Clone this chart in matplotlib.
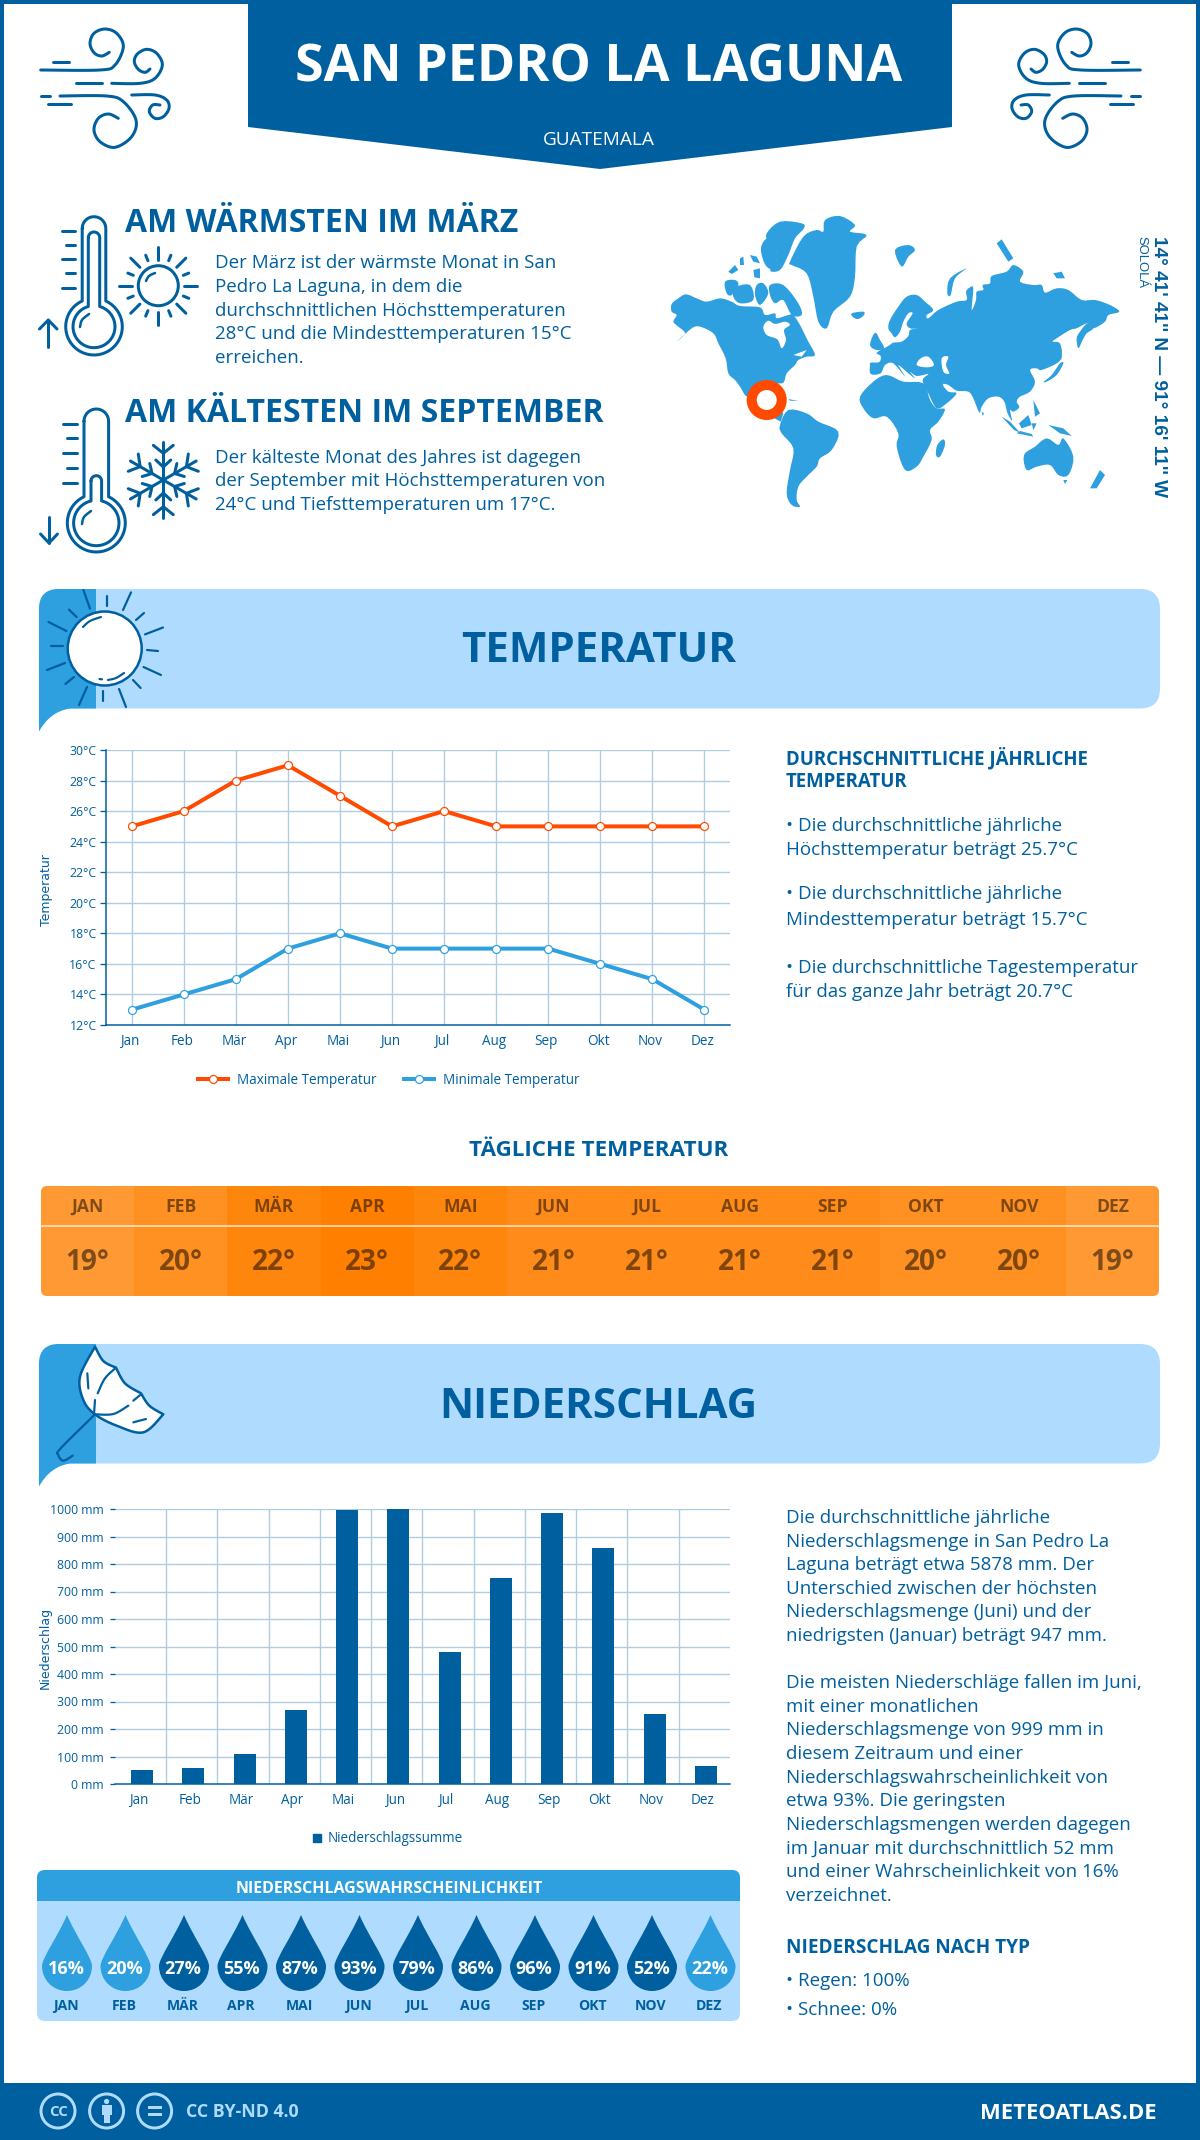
import numpy as np
import matplotlib
matplotlib.use('Agg')
import matplotlib.pyplot as plt
from matplotlib.lines import Line2D
from matplotlib.patches import Circle, FancyBboxPatch, PathPatch, Polygon, Rectangle
from matplotlib.path import Path
from matplotlib.transforms import ScaledTranslation

plt.rcParams['font.family'] = ['Open Sans', 'DejaVu Sans']

# Data

months = ['Jan', 'Feb', 'Mär', 'Apr', 'Mai', 'Jun', 'Jul', 'Aug', 'Sep', 'Okt', 'Nov', 'Dez']
months_upper = ['JAN', 'FEB', 'MÄR', 'APR', 'MAI', 'JUN', 'JUL', 'AUG', 'SEP', 'OKT', 'NOV', 'DEZ']
temp_max = [25, 26, 28, 29, 27, 25, 26, 25, 25, 25, 25, 25]
temp_min = [13, 14, 15, 17, 18, 17, 17, 17, 17, 16, 15, 13]
temp_ticks = [12, 14, 16, 18, 20, 22, 24, 26, 28, 30]
daily_temp = [19, 20, 22, 23, 22, 21, 21, 21, 21, 20, 20, 19]
precip = [52, 60, 110, 270, 997, 999, 480, 750, 985, 858, 255, 66]
precip_ticks = [0, 100, 200, 300, 400, 500, 600, 700, 800, 900, 1000]
rain_prob = [16, 20, 27, 55, 87, 93, 79, 86, 96, 91, 52, 22]

warm_lines = ['Der März ist der wärmste Monat in San', 'Pedro La Laguna, in dem die',
              'durchschnittlichen Höchsttemperaturen', '28°C und die Mindesttemperaturen 15°C', 'erreichen.']
cold_lines = ['Der kälteste Monat des Jahres ist dagegen', 'der September mit Höchsttemperaturen von',
              '24°C und Tiefsttemperaturen um 17°C.']
temp_notes = [('• Die durchschnittliche jährliche', 831), ('Höchsttemperatur beträgt 25.7°C', 855),
              ('• Die durchschnittliche jährliche', 899), ('Mindesttemperatur beträgt 15.7°C', 925),
              ('• Die durchschnittliche Tagestemperatur', 973), ('für das ganze Jahr beträgt 20.7°C', 997)]
precip_lines = ['Die durchschnittliche jährliche', 'Niederschlagsmenge in San Pedro La',
                'Laguna beträgt etwa 5878 mm. Der', 'Unterschied zwischen der höchsten',
                'Niederschlagsmenge (Juni) und der', 'niedrigsten (Januar) beträgt 947 mm.']
precip_lines2 = ['Die meisten Niederschläge fallen im Juni,', 'mit einer monatlichen',
                 'Niederschlagsmenge von 999 mm in', 'diesem Zeitraum und einer',
                 'Niederschlagswahrscheinlichkeit von', 'etwa 93%. Die geringsten',
                 'Niederschlagsmengen werden dagegen', 'im Januar mit durchschnittlich 52 mm',
                 'und einer Wahrscheinlichkeit von 16%', 'verzeichnet.']

DARK = '#005f9e'
MID = '#2e9fdf'
LIGHT = '#afdbff'
ORANGE = '#ff4a00'
GRID = '#b0cce0'
DAILY_COLORS = {19: '#ff9933', 20: '#ff9022', 21: '#ff8c1a', 22: '#ff860d', 23: '#ff8000'}
BODY = 18.75

W, H = 1200, 2140
fig = plt.figure(figsize=(W / 100, H / 100), dpi=100, facecolor='white')

# Page layer in pixels, y going down
bg = fig.add_axes([0, 0, 1, 1])
bg.set_xlim(0, W)
bg.set_ylim(H, 0)
bg.axis('off')


def pt(px):
    return px * 0.72


def txt(x, y, s, size, color=DARK, weight='normal', ha='left', **kw):
    return bg.text(x, y, s, fontsize=pt(size), color=color, fontweight=weight, ha=ha, va='baseline', **kw)


def spline(p, n):
    # Catmull-Rom; p carries one guard point at each end
    out = []
    for i in range(1, len(p) - 2):
        t = np.linspace(0, 1, n, endpoint=False)[:, None]
        a, b, c, d = p[i - 1], p[i], p[i + 1], p[i + 2]
        out.append(0.5 * (2 * b + (c - a) * t + (2 * a - 5 * b + 4 * c - d) * t ** 2 + (3 * b - a - 3 * c + d) * t ** 3))
    out.append(p[-2][None, :])
    return np.vstack(out)


def smooth(pts, n=12):
    p = np.array(pts, dtype=float)
    return spline(np.vstack([p[0], p, p[-1]]), n)


def smooth_closed(pts, n=4):
    p = np.array(pts, dtype=float)
    if len(p) < 5:
        return p
    return spline(np.vstack([p[-1], p, p[0], p[1]]), n)


def stroke(pts, lw=3, color=DARK, z=3):
    p = np.array(pts, dtype=float)
    bg.plot(p[:, 0], p[:, 1], color=color, lw=pt(lw), solid_capstyle='round', solid_joinstyle='round', zorder=z)


def thermo_outline(cx, top, cy, hw, R):
    # tube with a round top that opens into the bulb
    a = np.arcsin(hw / R)
    cap = np.linspace(np.pi, 0, 20)
    bulb = np.linspace(-np.pi / 2 + a, 1.5 * np.pi - a, 50)
    xs = np.r_[cx + hw * np.cos(cap), cx + R * np.cos(bulb)]
    ys = np.r_[top + hw - hw * np.sin(cap), cy + R * np.sin(bulb)]
    xs = np.r_[xs, xs[0]]
    ys = np.r_[ys, ys[0]]
    return np.c_[xs, ys]


# Page frame
bg.add_patch(Rectangle((0, 0), 4, H, color=DARK, lw=0))
bg.add_patch(Rectangle((1196, 0), 4, H, color=DARK, lw=0))
bg.add_patch(Rectangle((0, 0), W, 3.5, color=DARK, lw=0))
bg.add_patch(Rectangle((0, 2083), W, 57, color=DARK, lw=0))

# Title banner
bg.add_patch(Polygon([(248, 0), (952, 0), (952, 127), (600, 169), (248, 127)], color=DARK, lw=0))
txt(599, 81, 'SAN PEDRO LA LAGUNA', 52, 'white', 'bold', 'center')
txt(599, 145, 'GUATEMALA', 19, 'white', ha='center')


# Wind icons
def wind(mirror=False):
    def tr(p):
        q = np.array(p, dtype=float)
        x = 20 + q[:, 0] / 3
        y = 10 + q[:, 1] / 3
        return np.c_[1181 - x if mirror else x, y]
    swirls = [
        [(62, 180), (240, 180), (285, 165), (310, 110), (290, 70), (255, 57), (222, 70), (210, 100), (222, 128), (245, 138), (268, 127)],
        [(275, 220), (360, 220), (405, 205), (427, 165), (410, 130), (380, 118), (352, 132), (343, 155), (355, 178), (375, 187), (390, 177)],
        [(120, 258), (260, 258), (310, 275), (348, 330), (335, 380), (285, 412), (240, 395), (222, 360), (235, 325), (265, 312), (295, 325)],
        [(335, 255), (405, 255), (440, 270), (447, 295), (430, 320), (405, 325), (388, 305), (398, 285), (420, 285)],
    ]
    for s in swirls:
        stroke(tr(smooth(s)), 3)
    for d in [[(168, 220), (245, 220)], [(98, 155), (148, 155)], [(62, 258), (90, 258)], [(85, 283), (153, 283)]]:
        stroke(tr(d), 3)


wind()
wind(True)

# Thermometer, warm
stroke(thermo_outline(94, 216.7, 326.7, 11.8, 28.3))
stroke(thermo_outline(94, 232, 326.7, 5.7, 21))
stroke(smooth([(80, 327), (82, 320), (89, 314)]), 2.5)
for y, x0 in zip([231, 245, 259.3, 273.3, 287.7], [62.3, 65.7, 62.3, 65.7, 62.3]):
    stroke([(x0, y), (75, y)])
stroke([(48.3, 320), (48.3, 346.7)])
stroke([(39.5, 329), (48.3, 320), (57, 329)])

# Sun
bg.add_patch(Circle((158.3, 285.7), 20, fc='none', ec=DARK, lw=pt(3)))
stroke(smooth([(146, 281), (149, 276), (155, 273)]), 2.5)
for ang in np.arange(0, 360, 45):
    c, s = np.cos(np.radians(ang)), np.sin(np.radians(ang))
    stroke([(158.3 + 26 * c, 285.7 + 26 * s), (158.3 + 39 * c, 285.7 + 39 * s)])
    c, s = np.cos(np.radians(ang + 22.5)), np.sin(np.radians(ang + 22.5))
    stroke([(158.3 + 27 * c, 285.7 + 27 * s), (158.3 + 33 * c, 285.7 + 33 * s)])

# Thermometer, cold
stroke(thermo_outline(96.3, 409, 523, 12.3, 29))
stroke(thermo_outline(96.3, 475.7, 523, 5.3, 22.7))
stroke(smooth([(82, 524), (84, 517), (91, 511)]), 2.5)
for y, x0 in zip([424, 438, 453, 467.7, 482.7], [63, 66.5, 63, 66.5, 63]):
    stroke([(x0, y), (76.7, y)])
stroke([(49, 517), (49, 543)])
stroke([(40.5, 534), (49, 543), (57.5, 534)])

# Snowflake
for ang in np.arange(30, 360, 60):
    u = np.array([np.cos(np.radians(ang)), np.sin(np.radians(ang))])
    v = np.array([-u[1], u[0]])
    o = np.array([163.3, 480])
    stroke([o, o + 38 * u])
    stroke([o + 26.7 * u + 10 * v + 8 * u, o + 26.7 * u, o + 26.7 * u - 10 * v + 8 * u])
    stroke([o + 13 * u + 7.5 * v + 7 * u, o + 13 * u, o + 13 * u - 7.5 * v + 7 * u])

# Warm / cold text
txt(125, 232, 'AM WÄRMSTEN IM MÄRZ', 32, weight='bold')
for i, line in enumerate(warm_lines):
    txt(215, 268 + i * 23.8, line, BODY)
txt(125, 422, 'AM KÄLTESTEN IM SEPTEMBER', 32, weight='bold')
for i, line in enumerate(cold_lines):
    txt(215, 463 + i * 23.5, line, BODY)

# World map, traced in crop units (3 per pixel, origin 660,200)
land = [
    [(35, 312), (55, 295), (78, 283), (110, 295), (140, 305), (180, 295), (215, 305), (240, 318), (300, 322), (315, 345), (345, 340), (350, 355), (385, 345), (400, 345), (420, 375), (430, 395), (445, 425), (465, 465), (440, 470), (415, 480), (405, 495), (380, 520), (370, 548), (340, 550), (315, 555), (290, 560), (262, 590), (240, 560), (225, 540), (205, 520), (197, 475), (175, 430), (160, 400), (120, 380), (95, 385), (50, 425), (75, 400), (55, 380), (40, 365), (50, 345), (35, 335)],
    [(300, 560), (370, 640), (362, 665), (280, 620)],
    [(195, 245), (225, 240), (235, 255), (215, 285), (200, 280)],
    [(205, 215), (225, 195), (235, 210), (215, 222)],
    [(225, 262), (270, 255), (280, 300), (240, 310), (220, 290)],
    [(280, 210), (300, 205), (300, 235), (283, 232)],
    [(290, 255), (310, 250), (325, 280), (300, 315), (285, 285)],
    [(330, 255), (370, 255), (415, 310), (425, 345), (395, 345), (370, 300), (345, 310), (330, 285)],
    [(305, 135), (325, 115), (350, 150), (345, 205), (320, 200), (305, 165)],
    [(320, 100), (360, 65), (425, 70), (432, 85), (405, 115), (385, 165), (360, 210), (330, 212), (350, 180), (345, 140), (325, 125)],
    [(240, 175), (250, 170), (252, 195), (240, 195)],
    [(270, 165), (290, 170), (300, 190), (280, 185)],
    [(390, 185), (430, 110), (470, 90), (490, 95), (495, 60), (540, 48), (585, 75), (570, 95), (620, 105), (590, 140), (585, 230), (570, 290), (520, 335), (500, 385), (475, 365), (460, 290), (440, 220), (395, 195)],
    [(575, 340), (610, 335), (612, 345), (595, 357), (580, 352)],
    [(385, 630), (440, 640), (475, 665), (535, 695), (515, 750), (480, 775), (470, 800), (440, 830), (415, 860), (410, 900), (420, 920), (395, 915), (380, 880), (390, 810), (400, 745), (365, 700), (360, 675)],
    [(600, 590), (640, 545), (680, 525), (730, 545), (790, 550), (810, 600), (830, 625), (855, 628), (835, 665), (810, 690), (815, 720), (790, 770), (770, 800), (735, 810), (710, 740), (715, 700), (680, 650), (640, 655), (610, 625)],
    [(850, 718), (855, 735), (840, 770), (828, 765), (832, 735)],
    [(1092, 765), (1125, 740), (1160, 715), (1195, 735), (1210, 715), (1240, 770), (1225, 825), (1195, 825), (1170, 795), (1130, 800), (1100, 810)],
    [(1320, 810), (1335, 825), (1310, 865), (1290, 865)],
    [(1210, 840), (1222, 840), (1215, 852)],
    [(705, 150), (745, 135), (765, 150), (745, 170), (725, 200)],
    [(1010, 130), (1025, 118), (1060, 175), (1045, 185)],
    [(385, 597), (415, 603), (390, 602)],
]
# Eurasia from a closer crop (3 per pixel, origin 860,250)
land_asia = [
    [(30, 345), (32, 338), (58, 336), (62, 318), (50, 308), (85, 288), (100, 278), (125, 275), (145, 258), (150, 240), (172, 236), (150, 235), (140, 220), (158, 190), (145, 190), (130, 215), (120, 245), (105, 262), (95, 250), (85, 235), (90, 210), (115, 170), (140, 140), (170, 135), (195, 155), (220, 180), (200, 195), (205, 205), (235, 180), (290, 155), (320, 150), (318, 125), (330, 112), (340, 115), (335, 180), (348, 150), (350, 125), (370, 120), (368, 105), (390, 100), (395, 78), (440, 65), (460, 45), (490, 65), (480, 95), (520, 105), (545, 105), (555, 128), (590, 115), (625, 120), (665, 150), (705, 150), (750, 165), (778, 185), (745, 195), (735, 215), (700, 235), (682, 220), (650, 235), (630, 240), (590, 265), (578, 275), (600, 280), (605, 320), (590, 340), (545, 360), (530, 355), (510, 360), (525, 395), (510, 425), (480, 440), (470, 455), (478, 472), (460, 485), (450, 480), (456, 512), (442, 488), (433, 455), (415, 440), (385, 445), (365, 470), (358, 488), (340, 445), (325, 425), (290, 422), (265, 405), (248, 403), (265, 425), (290, 430), (260, 460), (230, 475), (205, 430), (190, 400), (190, 385), (205, 372), (170, 378), (150, 365), (165, 385), (145, 370), (115, 345), (135, 380), (100, 340), (75, 345), (62, 370), (32, 372)],
    [(682, 220), (700, 235), (680, 250), (668, 270), (655, 295), (650, 265), (660, 245)],
    [(30, 285), (45, 248), (60, 270), (72, 295), (50, 300)],
    [(262, 130), (270, 85), (320, 55), (285, 85), (272, 135)],
    [(552, 395), (575, 375), (600, 340), (610, 340), (590, 375), (560, 395)],
    [(597, 282), (605, 300), (604, 330), (596, 310)],
    [(425, 500), (450, 515), (480, 548), (462, 540)],
    [(470, 550), (520, 560), (515, 552), (480, 543)],
    [(565, 525), (610, 535), (635, 558), (600, 550)],
    [(477, 520), (505, 495), (515, 525), (485, 535)],
    [(515, 520), (530, 520), (520, 540)],
    [(520, 450), (540, 490), (525, 500)],
    [(365, 485), (372, 490), (368, 498)],
    [(580, 70), (605, 65), (615, 85), (590, 85)],
]
water = [
    [(310, 380), (325, 362), (345, 372), (375, 365), (390, 375), (372, 390), (378, 420), (365, 445), (352, 418), (320, 405)],
    [(400, 465), (440, 450), (425, 470)],
]
water_asia = [
    [(170, 345), (182, 325), (205, 320), (222, 345), (200, 352)],
    [(245, 325), (265, 320), (258, 345), (268, 370), (250, 365)],
]


def map_xy(p):
    return [(660 + x / 3, 200 + y / 3) for x, y in p]


def asia_xy(p):
    return [(860 + x / 3, 250 + y / 3) for x, y in p]


for poly in land:
    bg.add_patch(Polygon(smooth_closed(map_xy(poly)), color=MID, lw=0, zorder=2))
for poly in land_asia:
    bg.add_patch(Polygon(smooth_closed(asia_xy(poly)), color=MID, lw=0, zorder=2))
for poly in water:
    bg.add_patch(Polygon(smooth_closed(map_xy(poly)), color='white', lw=0, zorder=2))
for poly in water_asia:
    bg.add_patch(Polygon(smooth_closed(asia_xy(poly)), color='white', lw=0, zorder=2))
bg.add_patch(Circle((766.7, 400), 15, fc='white', ec=ORANGE, lw=pt(10), zorder=3))

txt(1154, 236, "14° 41' 41'' N — 91° 16' 11'' W", 19, weight='bold', family='Liberation Sans',
    rotation=-90, rotation_mode='anchor')
txt(1138, 236, 'SOLOLÁ', 13, family='Liberation Sans', rotation=-90, rotation_mode='anchor')


# Section headers
def header(top, title):
    bot = top + 119.5
    bg.add_patch(FancyBboxPatch((39, top), 1121, bot - top, boxstyle='round,pad=0,rounding_size=20', fc=LIGHT, ec='none'))
    verts = [(39, top + 20), (39, top), (59, top), (96, top), (96, bot), (70, bot), (50, bot + 3), (39, bot + 23), (39, top + 20)]
    codes = [Path.MOVETO, Path.CURVE3, Path.CURVE3, Path.LINETO, Path.LINETO, Path.LINETO, Path.CURVE3, Path.CURVE3, Path.CLOSEPOLY]
    bg.add_patch(PathPatch(Path(verts, codes), fc=MID, ec='none'))
    txt(598.5, top + 73.5, title, 42, weight='bold', ha='center')


header(589, 'TEMPERATUR')
header(1344, 'NIEDERSCHLAG')

# Header sun
bg.add_patch(Circle((104.7, 648.5), 37, fc='white', ec=DARK, lw=pt(2.5), zorder=3))
for a, b in [((83.4, 590), (90, 608.6)), ((131, 592.4), (123, 610)), ((48.5, 622), (66.4, 631)), ((163, 627.5), (145, 634.4)),
             ((47, 670), (65, 663)), ((161, 675), (143.5, 667)), ((87, 687), (79, 705)), ((119, 689), (126, 707)),
             ((107, 596), (107, 606)), ((144, 613), (136, 620)), ((51, 646.4), (63, 646.4)), ((147, 650), (158, 651)),
             ((69, 609.6), (76.6, 617)), ((65.4, 684), (74, 677)), ((133, 680), (140.6, 688)), ((102.8, 690.5), (102.8, 701))]:
    stroke([a, b], 2.2)
stroke(smooth([(83, 627), (90, 621), (101, 617)]), 2.2, z=4)
stroke(smooth([(108, 680), (116, 678), (124, 673)]), 2.2, z=4)
stroke([(99.5, 679), (102, 679.3)], 2.2, z=4)


# Umbrella, crop units (3 per pixel, origin 30,1335)
def umb(p):
    return [(30 + x / 3, 1335 + y / 3) for x, y in p]


lobes = [smooth([(195, 35), (220, 78), (258, 98)]), smooth([(258, 98), (285, 145), (333, 175)]),
         smooth([(333, 175), (358, 212), (400, 238)]), smooth([(400, 238), (340, 292), (260, 272), (195, 238), (160, 195), (150, 125), (195, 35)])]
canopy = np.vstack(lobes)
bg.add_patch(Polygon(umb(canopy), fc='white', ec=DARK, lw=pt(2.5), joinstyle='round', zorder=3))
for seg in [[(258, 98), (225, 130), (203, 175)], [(195, 195), (192, 238)], [(195, 238), (250, 237), (295, 212)],
            [(310, 197), (333, 178)], [(172, 115), (175, 160)], [(310, 262), (348, 252)]]:
    stroke(umb(smooth(seg) if len(seg) > 2 else seg), 2.2, z=4)
stroke(umb(smooth([(195, 238), (92, 340), (85, 360), (100, 377), (128, 362)])), 2.2, z=4)

# Temperature chart
ax = fig.add_axes([105.7 / W, 1 - 1025 / H, (730.5 - 105.7) / W, (1025 - 750) / H])
x = np.arange(len(months))
ax.plot(x, temp_max, color=ORANGE, lw=pt(4), marker='o', ms=pt(8), mfc='white', mec=ORANGE, mew=pt(1.2), label='Maximale Temperatur', clip_on=False, zorder=3)
ax.plot(x, temp_min, color=MID, lw=pt(4), marker='o', ms=pt(8), mfc='white', mec=MID, mew=pt(1.2), label='Minimale Temperatur', clip_on=False, zorder=3)
ax.set_xlim(-0.5, 11.5)
ax.set_ylim(12, 30)
ax.set_yticks(temp_ticks)
ax.set_yticklabels([f'{v}°C' for v in temp_ticks])
ax.set_xticks(x)
ax.set_xticklabels(months)
ax.set_ylabel('Temperatur', fontsize=pt(12.5), color=DARK, family='DejaVu Sans')
ax.yaxis.set_label_coords((53 - 105.7) / (730.5 - 105.7), 0.49)
ax.grid(True, color=GRID, lw=1)
ax.set_axisbelow(True)
ax.tick_params(axis='y', length=pt(6), color=DARK, labelcolor=DARK, labelsize=pt(12.2), pad=pt(3), width=pt(1.3))
ax.tick_params(axis='x', length=0, labelcolor=DARK, labelsize=pt(13.5), pad=pt(9))
for s in ['top', 'right']:
    ax.spines[s].set_visible(False)
for s in ['left', 'bottom']:
    ax.spines[s].set_color(DARK)
    ax.spines[s].set_linewidth(pt(1.5))
off = ScaledTranslation(-2 / 100, 0, fig.dpi_scale_trans)
for lb in ax.get_xticklabels():
    lb.set_transform(lb.get_transform() + off)
h, l = ax.get_legend_handles_labels()
leg = ax.legend(h, l, loc='center', bbox_to_anchor=((389 - 105.7) / 624.8, (1025 - 1080) / 275), ncol=2, frameon=False,
                fontsize=pt(13.5), handlelength=2.2, columnspacing=2.0, handletextpad=0.7, labelcolor=DARK)

# Daily temperature strip
txt(599, 1156, 'TÄGLICHE TEMPERATUR', 22.4, weight='bold', ha='center')
cw = (1159 - 41) / 12
strip = FancyBboxPatch((41, 1186), 1118, 110, boxstyle='round,pad=0,rounding_size=6', fc='none', ec='none')
bg.add_patch(strip)
for i, t in enumerate(daily_temp):
    cell = Rectangle((41 + i * cw, 1186), cw + 0.5, 110, color=DAILY_COLORS[t], lw=0)
    bg.add_patch(cell)
    cell.set_clip_path(strip)
    txt(41 + (i + 0.5) * cw, 1212, months_upper[i], 17.5, 'black', 'bold', 'center', alpha=0.5)
    txt(41 + (i + 0.5) * cw, 1270.5, f'{t}°', 28, 'black', 'bold', 'center', alpha=0.5)
bg.plot([41, 1159], [1225.7, 1225.7], color='#ffe9cc', lw=pt(1.5))

# Temperature side text
txt(786, 764, 'DURCHSCHNITTLICHE JÄHRLICHE', 18.7, weight='bold')
txt(786, 787, 'TEMPERATUR', 18.7, weight='bold')
for line, y in temp_notes:
    txt(786, y, line, BODY)

# Precipitation chart
ax2 = fig.add_axes([115 / W, 1 - 1784 / H, (730 - 115) / W, (1784 - 1509) / H])
ax2.bar(x + 0.03, precip, width=0.43, color=DARK, label='Niederschlagssumme', zorder=3)
ax2.set_xlim(-0.5, 11.5)
ax2.set_ylim(0, 1000)
ax2.set_yticks(precip_ticks)
ax2.set_yticklabels([f'{v} mm' for v in precip_ticks])
ax2.set_xticks(x)
ax2.set_xticklabels(months)
ax2.set_xticks(x[:-1] + 0.5, minor=True)
ax2.set_ylabel('Niederschlag', fontsize=pt(12.5), color=DARK, family='DejaVu Sans')
ax2.yaxis.set_label_coords((52 - 115) / 615, 0.495)
ax2.grid(True, axis='y', color=GRID, lw=1)
ax2.grid(True, axis='x', which='minor', color=GRID, lw=1)
ax2.set_axisbelow(True)
ax2.tick_params(axis='y', length=pt(5), color=DARK, labelcolor=DARK, labelsize=pt(12.2), pad=pt(6), width=pt(1.3))
ax2.tick_params(axis='x', which='both', length=0, labelcolor=DARK, labelsize=pt(13.5), pad=pt(9))
for s in ['top', 'right', 'left']:
    ax2.spines[s].set_visible(False)
ax2.spines['bottom'].set_color(DARK)
ax2.spines['bottom'].set_linewidth(pt(1.5))
for lb in ax2.get_xticklabels():
    lb.set_transform(lb.get_transform() + off)
ax2.legend(handles=[Line2D([], [], ls='none', marker='s', ms=pt(8), color=DARK)], labels=['Niederschlagssumme'], loc='center',
           bbox_to_anchor=((388 - 115) / 615, (1784 - 1839) / 275), frameon=False, fontsize=pt(13.5), handlelength=0.6, handletextpad=0.5, labelcolor=DARK)

# Rain probability panel
bg.add_patch(FancyBboxPatch((37, 1870), 703, 151, boxstyle='round,pad=0,rounding_size=8', fc=LIGHT, ec='none'))
bg.add_patch(FancyBboxPatch((37, 1870), 703, 31, boxstyle='round,pad=0,rounding_size=8', fc=MID, ec='none'))
bg.add_patch(Rectangle((37, 1890), 703, 11, color=MID, lw=0))
txt(389, 1893, 'NIEDERSCHLAGSWAHRSCHEINLICHKEIT', 16, 'white', 'bold', 'center')
for i, p in enumerate(rain_prob):
    cx = 67 + i * 58.5
    verts = [(cx, 1915), (cx + 9, 1936), (cx + 25, 1958), (cx + 25, 1966), (cx + 25, 1980), (cx + 14, 1991), (cx, 1991),
             (cx - 14, 1991), (cx - 25, 1980), (cx - 25, 1966), (cx - 25, 1958), (cx - 9, 1936), (cx, 1915)]
    codes = [Path.MOVETO] + [Path.CURVE4] * 12
    bg.add_patch(PathPatch(Path(verts, codes), fc=MID if p <= 22 else DARK, ec='none', zorder=3))
    txt(cx - 1, 1973.5, f'{p}%', 18, 'white', 'bold', 'center', zorder=4)
    txt(cx - 1.5, 2010, months_upper[i], 14, DARK, 'bold', 'center')

# Precipitation side text
for i, line in enumerate(precip_lines):
    txt(786, 1523 + i * 23.6, line, BODY)
for i, line in enumerate(precip_lines2):
    txt(786, 1688 + i * 23.65, line, BODY)
txt(786, 1953, 'NIEDERSCHLAG NACH TYP', 19, weight='bold')
txt(786, 1986, '• Regen: 100%', BODY)
txt(786, 2015, '• Schnee: 0%', BODY)

# Footer
for cx in [58, 106.6, 154.6]:
    bg.add_patch(Circle((cx, 2111), 17, fc='none', ec=LIGHT, lw=pt(3)))
txt(58, 2116.5, 'CC', 15, LIGHT, 'bold', 'center')
bg.add_patch(Circle((106.6, 2101.5), 2.6, color=LIGHT, lw=0))
bg.add_patch(Rectangle((101.5, 2105), 10.2, 9.5, color=LIGHT, lw=0))
bg.add_patch(Rectangle((103.6, 2112), 6, 10.5, color=LIGHT, lw=0))
bg.add_patch(Rectangle((147.5, 2105.5), 14.5, 3.6, color=LIGHT, lw=0))
bg.add_patch(Rectangle((147.5, 2112.5), 14.5, 3.6, color=LIGHT, lw=0))
txt(185.5, 2117, 'CC BY-ND 4.0', 17.7, LIGHT, 'bold')
txt(1157, 2119, 'METEOATLAS.DE', 22, 'white', 'bold', 'right')

fig.savefig('out.png', dpi=100, facecolor='white')
